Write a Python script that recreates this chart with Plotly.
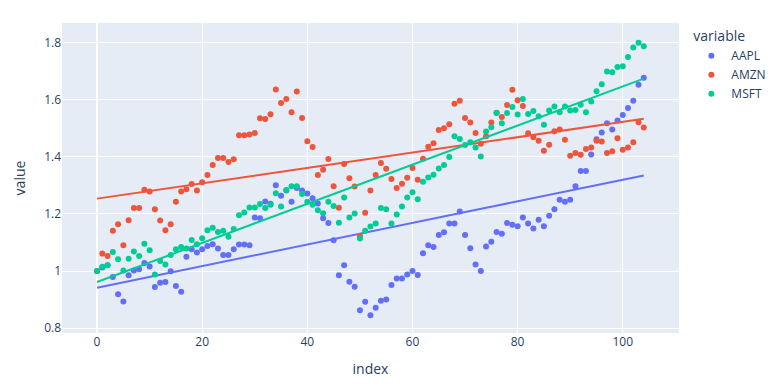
import numpy as np
import plotly.graph_objects as go

index = list(range(105))

aapl = [1.0, 1.012, 1.02, 0.979, 0.918, 0.893, 0.985, 1.002, 1.006, 1.028,
        1.016, 0.944, 0.959, 0.961, 0.999, 0.947, 0.927, 1.05, 1.076, 1.065,
        1.076, 1.088, 1.094, 1.079, 1.056, 1.056, 1.076, 1.093, 1.093, 1.09,
        1.188, 1.185, 1.244, 1.236, 1.301, 1.264, 1.282, 1.243, 1.291, 1.282,
        1.272, 1.255, 1.237, 1.185, 1.168, 1.108, 0.985, 1.02, 0.962, 0.945,
        0.862, 0.892, 0.845, 0.871, 0.896, 0.9, 0.951, 0.974, 0.974, 0.988,
        1.0, 0.986, 1.062, 1.09, 1.084, 1.126, 1.136, 1.167, 1.167, 1.209,
        1.126, 1.08, 1.023, 1.0, 1.086, 1.103, 1.137, 1.131, 1.168, 1.162,
        1.157, 1.188, 1.167, 1.149, 1.18, 1.157, 1.194, 1.217, 1.25, 1.243,
        1.25, 1.297, 1.351, 1.351, 1.409, 1.462, 1.486, 1.518, 1.496, 1.528,
        1.547, 1.572, 1.597, 1.653, 1.678]

amzn = [1.0, 1.061, 1.053, 1.141, 1.164, 1.09, 1.178, 1.221, 1.221, 1.285,
        1.279, 1.217, 1.177, 1.143, 1.164, 1.243, 1.279, 1.287, 1.305, 1.282,
        1.311, 1.337, 1.372, 1.396, 1.396, 1.382, 1.392, 1.476, 1.476, 1.479,
        1.484, 1.536, 1.533, 1.55, 1.637, 1.589, 1.603, 1.557, 1.63, 1.537,
        1.455, 1.435, 1.337, 1.355, 1.393, 1.297, 1.222, 1.375, 1.325, 1.296,
        1.123, 1.204, 1.282, 1.337, 1.379, 1.359, 1.323, 1.291, 1.306, 1.327,
        1.361, 1.32, 1.394, 1.436, 1.448, 1.495, 1.501, 1.515, 1.587, 1.597,
        1.537, 1.521, 1.484, 1.446, 1.473, 1.521, 1.555, 1.54, 1.582, 1.636,
        1.599, 1.579, 1.483, 1.469, 1.457, 1.422, 1.443, 1.49, 1.496, 1.46,
        1.404, 1.414, 1.408, 1.428, 1.433, 1.457, 1.454, 1.414, 1.42, 1.466,
        1.425, 1.433, 1.452, 1.522, 1.503]

msft = [1.0, 1.015, 1.02, 1.067, 1.041, 1.002, 1.043, 1.068, 1.053, 1.096,
        1.073, 0.988, 1.035, 1.023, 1.056, 1.076, 1.084, 1.079, 1.109, 1.094,
        1.115, 1.143, 1.152, 1.137, 1.141, 1.12, 1.147, 1.196, 1.205, 1.223,
        1.223, 1.235, 1.221, 1.232, 1.273, 1.226, 1.284, 1.297, 1.297, 1.27,
        1.243, 1.232, 1.213, 1.203, 1.243, 1.228, 1.169, 1.258, 1.188, 1.202,
        1.114, 1.141, 1.156, 1.167, 1.221, 1.217, 1.167, 1.198, 1.226, 1.258,
        1.276, 1.252, 1.313, 1.328, 1.338, 1.36, 1.372, 1.4, 1.473, 1.463,
        1.442, 1.452, 1.433, 1.402, 1.489, 1.504, 1.554, 1.518, 1.554, 1.575,
        1.549, 1.603, 1.551, 1.561, 1.543, 1.513, 1.563, 1.577, 1.557, 1.577,
        1.563, 1.565, 1.583, 1.557, 1.595, 1.631, 1.655, 1.7, 1.697, 1.716,
        1.718, 1.751, 1.784, 1.801, 1.788]

series = [("AAPL", aapl, "#636efa"), ("AMZN", amzn, "#EF553B"), ("MSFT", msft, "#00cc96")]

fig = go.Figure()
x = np.array(index, dtype=float)
for name, vals, color in series:
    y = np.array(vals)
    fig.add_trace(go.Scatter(x=index, y=vals, mode="markers", name=name,
                             legendgroup=name, marker=dict(color=color, size=6)))
    slope, intercept = np.polyfit(x, y, 1)
    fig.add_trace(go.Scatter(x=index, y=list(intercept + slope * x), mode="lines",
                             name=name, legendgroup=name, showlegend=False,
                             line=dict(color=color, width=2)))

# page body has an 8px default margin; size the figure to fit the window
fig.update_layout(
    template="plotly",
    width=775, height=382,
    margin=dict(l=54, r=100, t=15, b=57),
    xaxis=dict(title=dict(text="index"), range=[-6.67, 110.7], automargin=False),
    yaxis=dict(title=dict(text="value"), range=[0.7825, 1.870], automargin=False),
    legend=dict(title=dict(text="variable"), tracegroupgap=0),
)
fig.write_html("out.html")
